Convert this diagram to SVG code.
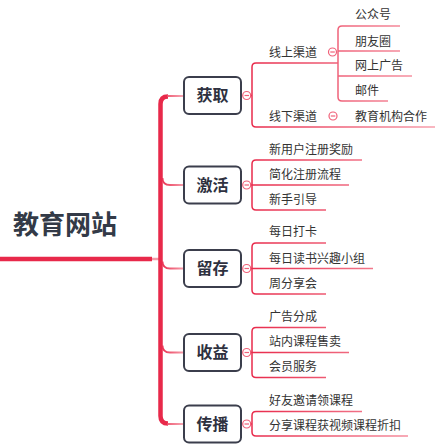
<svg xmlns="http://www.w3.org/2000/svg" width="435" height="444" viewBox="0 0 435 444">
<style>
text{font-family:"Microsoft YaHei","Noto Sans CJK SC","Noto Sans",sans-serif;fill:#333}
.c{font-size:12px}
.b{font-size:16px;font-weight:bold;fill:#2e3140;text-anchor:middle}
.r{font-size:26px;font-weight:bold;fill:#333a47}
.box{fill:#fff;stroke:#3b3e4c;stroke-width:2}
.l{fill:none;stroke:url(#g2);stroke-width:1.5}
.br{fill:none;stroke:url(#g1);stroke-width:1.8}
.btn{fill:#fff;stroke:#f06078;stroke-width:1.2}
.m{stroke:#f06078;stroke-width:1.2}
</style>
<defs>
<linearGradient id="g1" gradientUnits="userSpaceOnUse" x1="160" y1="0" x2="184" y2="0">
<stop offset="0" stop-color="#e8294a"/><stop offset="1" stop-color="#f7a0ad"/>
</linearGradient>
<linearGradient id="g2" gradientUnits="userSpaceOnUse" x1="250" y1="0" x2="435" y2="0">
<stop offset="0" stop-color="#e8294a"/><stop offset="1" stop-color="#f7a0ad"/>
</linearGradient>
</defs>
<g id="connectors">
<path d="M0 259H152" stroke="#e8294a" stroke-width="4.5" fill="none"/>
<path d="M152 259H159" stroke="#f59aa8" stroke-width="2.5" fill="none"/>
<path d="M168 96.5Q160.5 96.5 160.5 104V416Q160.5 423.5 168 423.5" stroke="#e8294a" stroke-width="4.5" fill="none"/>
<path class="br" d="M167 96H184"/>
<path class="br" d="M167 424H184"/>
<path class="br" d="M162.5 178Q162.5 185 170 185H184"/>
<path class="br" d="M162.5 261.5Q162.5 268.5 170 268.5H184"/>
<path class="br" d="M162.5 345.5Q162.5 352.5 170 352.5H184"/>
<path class="l" d="M338 63H256Q252 63 252 67V123Q252 127 256 127H435M250.7 95.5H252"/>
<path class="l" d="M400 26H342Q338 26 338 30V97Q338 101 342 101H388M338 51H400M338 76H412"/>
<path class="l" d="M362 160H256Q252 160 252 164V206Q252 210 256 210H326M250.7 185H349"/>
<path class="l" d="M326 243H256Q252 243 252 247V290Q252 294 256 294H326M250.7 268.5H373"/>
<path class="l" d="M326 327.5H256Q252 327.5 252 331.5V373.5Q252 377.5 256 377.5H326M250.7 352.5H349"/>
<path class="l" d="M362 411.5H256Q252 411.5 252 415.5V432Q252 436 256 436H408M250.7 424H252"/>
</g>
<g id="root"><text class="r" x="13" y="234">教育网站</text></g>
<g id="n-huoqu">
<rect class="box" x="184" y="77" width="57" height="37" rx="5"/>
<text class="b" x="212.5" y="101.3">获取</text>
<circle class="btn" cx="246.7" cy="95.5" r="4"/><path class="m" d="M244.5 95.5H249"/>
</g>
<g id="n-xianshang">
<text class="c" x="269" y="56.5">线上渠道</text>
<circle class="btn" cx="332.5" cy="52" r="4"/><path class="m" d="M330.3 52H334.8"/>
</g>
<g id="n-gzh"><text class="c" x="355" y="18.5">公众号</text></g>
<g id="n-pyq"><text class="c" x="355" y="45.5">朋友圈</text></g>
<g id="n-wsgg"><text class="c" x="355" y="69.5">网上广告</text></g>
<g id="n-yj"><text class="c" x="355" y="94.5">邮件</text></g>
<g id="n-xianxia">
<text class="c" x="269" y="120.5">线下渠道</text>
<circle class="btn" cx="333" cy="116" r="4"/><path class="m" d="M330.8 116H335.3"/>
</g>
<g id="n-jyjg"><text class="c" x="355" y="120.5">教育机构合作</text></g>
<g id="n-jihuo">
<rect class="box" x="184" y="166.5" width="57" height="37" rx="5"/>
<text class="b" x="212.5" y="190.8">激活</text>
<circle class="btn" cx="246.7" cy="185" r="4"/><path class="m" d="M244.5 185H249"/>
</g>
<g id="n-xyh"><text class="c" x="269" y="153.5">新用户注册奖励</text></g>
<g id="n-jhzc"><text class="c" x="269" y="178.5">简化注册流程</text></g>
<g id="n-xsyd"><text class="c" x="269" y="203.8">新手引导</text></g>
<g id="n-liucun">
<rect class="box" x="184" y="250" width="57" height="37" rx="5"/>
<text class="b" x="212.5" y="274.3">留存</text>
<circle class="btn" cx="246.7" cy="268.5" r="4"/><path class="m" d="M244.5 268.5H249"/>
</g>
<g id="n-mrdk"><text class="c" x="269" y="236">每日打卡</text></g>
<g id="n-mrds"><text class="c" x="269" y="263">每日读书兴趣小组</text></g>
<g id="n-zfx"><text class="c" x="269" y="288">周分享会</text></g>
<g id="n-shouyi">
<rect class="box" x="184" y="334" width="57" height="37" rx="5"/>
<text class="b" x="212.5" y="358.3">收益</text>
<circle class="btn" cx="246.7" cy="352.5" r="4"/><path class="m" d="M244.5 352.5H249"/>
</g>
<g id="n-ggfc"><text class="c" x="269" y="321">广告分成</text></g>
<g id="n-znkc"><text class="c" x="269" y="346">站内课程售卖</text></g>
<g id="n-hyfw"><text class="c" x="269" y="371">会员服务</text></g>
<g id="n-chuanbo">
<rect class="box" x="184" y="405.5" width="57" height="37" rx="5"/>
<text class="b" x="212.5" y="429.8">传播</text>
<circle class="btn" cx="246.7" cy="424" r="4"/><path class="m" d="M244.5 424H249"/>
</g>
<g id="n-hyyq"><text class="c" x="269" y="404.5">好友邀请领课程</text></g>
<g id="n-fxkc"><text class="c" x="269" y="429.5">分享课程获视频课程折扣</text></g>
</svg>
